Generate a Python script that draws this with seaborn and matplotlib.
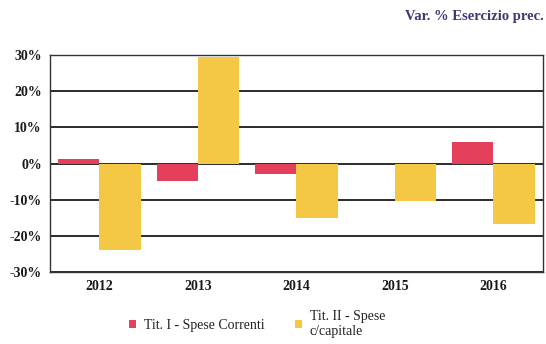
import matplotlib
matplotlib.use("Agg")
import matplotlib.pyplot as plt
from matplotlib.ticker import FuncFormatter
import pandas as pd
import seaborn as sns

years = ["2012", "2013", "2014", "2015", "2016"]
spese_correnti = [1.2, -4.8, -3.0, 0.0, 6.1]
spese_capitale = [-24.0, 29.5, -15.0, -10.3, -16.6]
series_names = ["Tit. I - Spese Correnti", "Tit. II - Spese\nc/capitale"]
yticks = [-30, -20, -10, 0, 10, 20, 30]

df = pd.DataFrame({
    "Anno": years * 2,
    "Valore": spese_correnti + spese_capitale,
    "Serie": [series_names[0]] * len(years) + [series_names[1]] * len(years),
})

sns.set_style("white")
plt.rcParams["font.family"] = ["Liberation Serif", "DejaVu Serif"]

fig = plt.figure(figsize=(5.46, 3.44), dpi=100)
ax = fig.add_axes([0.092, 0.209, 0.902, 0.631])

palette = {series_names[0]: "#e4405c", series_names[1]: "#f4c845"}
sns.barplot(data=df, x="Anno", y="Valore", hue="Serie", palette=palette,
            width=0.84, saturation=1, linewidth=0, ax=ax, zorder=3)

ax.set_ylim(-30, 30)
ax.set_yticks(yticks)
ax.yaxis.set_major_formatter(FuncFormatter(lambda v, _: f"{v:.0f}%"))
ax.grid(axis="y", color="#1a1a1a", linewidth=1.3, zorder=0)
ax.set_axisbelow(True)
for side in ax.spines.values():
    side.set_visible(True)
    side.set_color("#333333")
    side.set_linewidth(1.0)
ax.set_xlabel("")
ax.set_ylabel("")
ax.tick_params(axis="both", length=0, labelsize=10, pad=6, colors="#1a1a1a")
for lbl in ax.get_yticklabels() + ax.get_xticklabels():
    lbl.set_fontweight("bold")

leg = ax.legend(loc="upper left", bbox_to_anchor=(0.135, -0.115), ncol=2,
                frameon=False, fontsize=10, handlelength=0.5, handleheight=0.5,
                columnspacing=2.2, handletextpad=0.55)
for t in leg.get_texts():
    t.set_color("#222222")

fig.text(0.995, 0.952, "Var. % Esercizio prec.", ha="right", va="center",
         fontsize=10.5, fontweight="bold", color="#3b3a72")

fig.savefig("out.png", dpi=100)
